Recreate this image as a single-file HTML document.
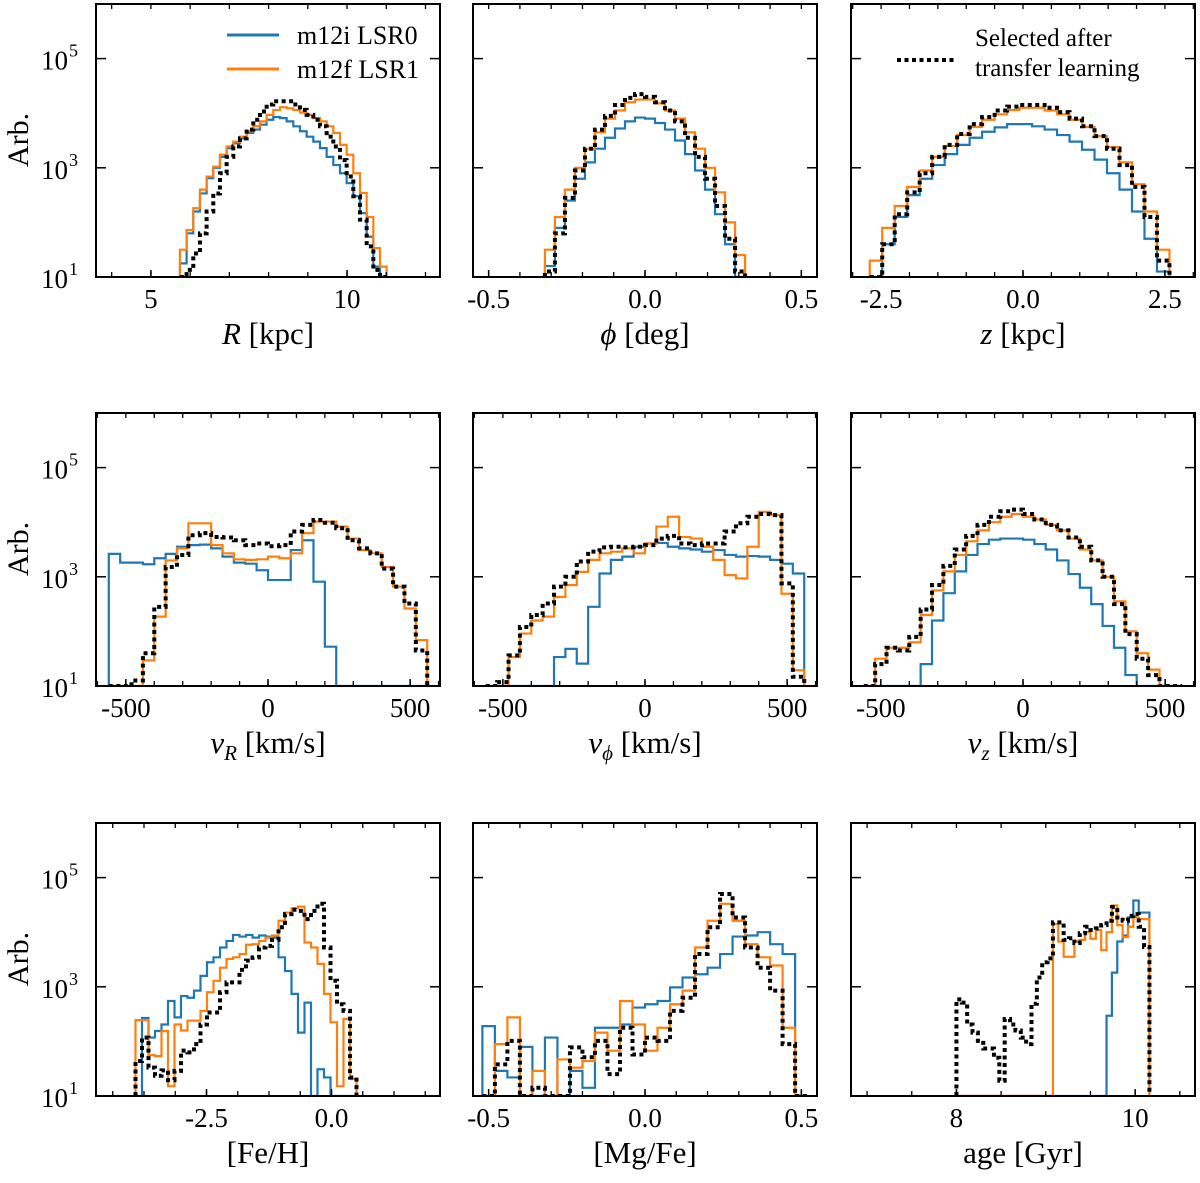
<!DOCTYPE html>
<html><head><meta charset="utf-8"><style>
html,body{margin:0;padding:0;background:#fff;}
svg{display:block;font-family:"Liberation Serif","DejaVu Serif",serif;}
</style></head><body>
<svg id="chart" width="1200" height="1183" viewBox="0 0 1200 1183" xmlns="http://www.w3.org/2000/svg"></svg>
<script>
// ---- data: log10 of counts per bin ----
const rBins = {start:5.74, width:0.17};
const rBlue   = [1.25,1.8,2.2,2.53,2.81,3.0,3.2,3.36,3.45,3.54,3.64,3.7,3.79,3.88,3.93,3.91,3.85,3.76,3.67,3.57,3.48,3.36,3.2,3.05,2.9,2.72,2.48,2.17,1.74,1.19,0];
const rOrange = [1.5,1.86,2.26,2.6,2.84,3.02,3.24,3.39,3.48,3.57,3.67,3.76,3.85,3.97,4.06,4.11,4.09,4.06,4.01,3.97,3.91,3.85,3.76,3.64,3.42,3.24,2.9,2.54,2.1,1.53,1.19];
const rSel    = [0,1.13,1.43,1.8,2.2,2.53,2.9,3.2,3.39,3.54,3.7,3.88,4.03,4.16,4.22,4.22,4.22,4.16,4.06,3.97,3.88,3.76,3.57,3.39,3.14,2.84,2.48,2.05,1.56,1.13,0];

const phiBins = {start:-0.32, width:0.032};
const phiBlue   = [1.2,1.9,2.4,2.8,3.1,3.35,3.55,3.72,3.85,3.92,3.9,3.82,3.7,3.5,3.25,2.95,2.6,2.15,1.6,1.0];
const phiOrange = [1.5,2.1,2.6,3.0,3.35,3.65,3.9,4.05,4.2,4.25,4.25,4.18,4.05,3.9,3.65,3.35,3.0,2.55,2.0,1.4];
const phiSel    = [1.1,1.8,2.45,2.95,3.35,3.7,3.95,4.15,4.28,4.35,4.3,4.2,4.05,3.85,3.55,3.2,2.8,2.3,1.7,1.1];

const zBins = {start:-2.7, width:0.22};
const zBlue   = [0.8,1.6,2.1,2.5,2.8,3.05,3.25,3.42,3.55,3.66,3.74,3.8,3.8,3.76,3.7,3.6,3.48,3.33,3.15,2.9,2.6,2.2,1.7,1.1];
const zOrange = [1.3,1.9,2.3,2.65,2.95,3.2,3.4,3.6,3.75,3.88,3.98,4.06,4.1,4.1,4.05,3.98,3.88,3.75,3.58,3.38,3.1,2.7,2.2,1.5];
const zSel    = [0.9,1.6,2.15,2.55,2.9,3.2,3.42,3.62,3.8,3.93,4.05,4.12,4.15,4.15,4.1,4.02,3.9,3.76,3.58,3.35,3.05,2.65,2.1,1.3];

const vBins = {start:-560, width:40};
const vrBlue   = [3.42,3.26,3.26,3.23,3.34,3.42,3.55,3.58,3.59,3.52,3.37,3.26,3.24,3.12,2.94,2.94,3.49,3.67,2.91,1.72,0,0,0,0,0,0,0,0];
const vrOrange = [0,0,0,1.47,2.27,3.3,3.52,3.98,3.98,3.58,3.43,3.32,3.31,3.32,3.37,3.34,3.43,3.8,4.01,4.01,3.92,3.7,3.49,3.43,3.18,2.82,2.42,1.84];
const vrSel    = [0,0,1.1,1.6,2.45,3.18,3.4,3.76,3.8,3.73,3.72,3.67,3.58,3.61,3.56,3.58,3.83,3.95,4.04,3.99,3.89,3.67,3.52,3.43,3.15,2.82,2.51,1.65];

const vpBlue   = [0,0,0,0,0,0,1.53,1.68,1.41,2.45,3.06,3.31,3.37,3.55,3.61,3.62,3.55,3.52,3.5,3.46,3.49,3.4,3.37,3.38,3.37,3.31,3.24,3.06];
const vpOrange = [0,0,1.53,1.96,2.2,2.27,2.63,2.85,3.09,3.31,3.43,3.46,3.52,3.43,3.61,3.92,4.1,3.73,3.7,3.55,3.31,3.03,2.97,3.55,4.19,4.13,2.69,1.29];
const vpSel    = [0,1.07,1.56,2.08,2.3,2.51,2.82,3.0,3.28,3.46,3.54,3.55,3.54,3.55,3.58,3.7,3.75,3.61,3.58,3.61,3.61,3.83,3.98,4.1,4.15,4.13,2.88,1.17];

const vzBlue   = [0,0,0,0,0,1.4,2.2,2.7,3.1,3.4,3.6,3.68,3.7,3.7,3.68,3.6,3.5,3.3,3.05,2.8,2.5,2.1,1.7,1.2,0.9,0,0,0];
const vzOrange = [0,1.5,1.7,1.7,1.8,2.3,2.75,3.1,3.4,3.65,3.85,4.0,4.1,4.15,4.1,4.05,3.95,3.85,3.7,3.5,3.3,3.0,2.55,2.0,1.6,1.3,0,0];
const vzSel    = [0,1.4,1.7,1.65,1.9,2.4,2.85,3.2,3.5,3.75,3.95,4.1,4.2,4.23,4.15,4.05,3.95,3.85,3.72,3.55,3.3,3.0,2.5,1.95,1.5,1.2,0,0];

const fehBins = {start:-3.92, width:0.13};
const fehBlue   = [0.9,2.43,2.07,2.19,2.31,2.74,2.44,2.83,2.8,2.93,3.2,3.45,3.54,3.72,3.84,3.95,3.92,3.95,3.9,3.94,3.92,3.9,3.54,3.29,2.87,2.16,2.71,0,1.49,1.34,0,0,0,0];
const fehOrange = [2.39,2.39,1.75,1.73,2.19,1.18,2.31,2.2,2.38,2.38,2.56,2.9,3.11,3.35,3.51,3.54,3.6,3.77,3.78,3.84,3.9,3.94,4.21,4.36,4.44,4.47,3.81,3.72,3.42,2.87,2.35,1.18,2.41,1.31];
const fehSel    = [1.64,2.07,1.52,1.37,1.47,1.29,1.46,1.83,1.8,1.95,2.31,2.53,2.53,2.9,3.08,3.08,3.31,3.48,3.54,3.72,3.75,3.86,4.09,4.33,4.41,4.39,4.24,4.39,4.52,3.72,3.11,2.68,2.56,1.34];

const mgBins = {start:-0.52, width:0.04};
const mgBlue   = [2.28,1.46,1.34,1.9,0,2.07,0,1.46,1.15,2.25,2.25,2.31,2.62,2.68,2.74,2.99,3.17,3.23,3.35,3.6,3.92,3.94,4.0,3.78,3.6,0];
const mgOrange = [0,1.95,2.44,0,1.46,0,1.67,1.52,1.64,2.16,1.83,2.74,2.31,1.83,2.25,2.68,2.93,3.72,4.21,4.52,4.21,3.78,3.54,3.39,2.25,0];
const mgSel    = [0,1.58,2.01,0,1.15,0,0,1.89,1.71,2.01,1.4,2.25,1.76,2.07,2.01,2.56,2.8,3.6,4.09,4.7,4.27,3.72,3.35,2.93,1.95,0];

const ageBins = {start:8.0, width:0.06};
const ageBlue   = [0,0,0,0,0,0,0,0,0,0,0,0,0,0,0,0,0,0,0,0,0,0,0,0,0,0,0,0,2.47,3.26,3.83,3.94,4.27,4.58,4.36,4.36];
const ageOrange = [0,0,0,0,0,0,0,0,0,0,0,0,0,0,0,0,0,0,4.15,3.83,3.55,3.55,3.83,3.86,4.0,3.88,4.04,3.67,4.0,4.49,4.13,3.91,4.1,4.27,4.24,4.24];
const ageSel    = [2.77,2.71,2.31,2.16,2.01,1.87,1.87,1.7,1.28,2.41,2.31,2.2,2.07,1.95,2.69,3.17,3.45,3.52,4.18,4.18,3.86,3.89,3.8,3.98,4.1,4.04,4.07,4.13,4.21,4.46,4.27,4.21,4.3,4.33,4.1,3.73];

const yTickExp = [1,3,5];

// ---- layout ----
const svg = document.getElementById('chart');
const NS = 'http://www.w3.org/2000/svg';
const colX = [96,473,851], rowY = [4,413,823], PW = 344, PH = 273;
const Y_MIN = 1, Y_MAX = 6;
const BLUE = '#1f77b4', ORANGE = '#ff7f0e';

function mk(tag, attrs, parent){
  const e = document.createElementNS(NS, tag);
  for (const k in attrs) e.setAttribute(k, attrs[k]);
  (parent||svg).appendChild(e);
  return e;
}

const panels = [
  {name:'r',c:0,r:0,xlim:[3.6,12.37],maj:[5,10],lab:['5','10'],minStart:4,minStep:1,bins:rBins,b:rBlue,o:rOrange,s:rSel,xl:[['R','i'],[' [kpc]','n']]},
  {name:'phi',c:1,r:0,xlim:[-0.55,0.55],maj:[-0.5,0,0.5],lab:['-0.5','0.0','0.5'],minStart:-0.5,minStep:0.1,bins:phiBins,b:phiBlue,o:phiOrange,s:phiSel,xl:[['ϕ','i'],[' [deg]','n']]},
  {name:'z',c:2,r:0,xlim:[-3.03,3.03],maj:[-2.5,0,2.5],lab:['-2.5','0.0','2.5'],minStart:-3,minStep:0.5,bins:zBins,b:zBlue,o:zOrange,s:zSel,xl:[['z','i'],[' [kpc]','n']]},
  {name:'vr',c:0,r:1,xlim:[-605,605],maj:[-500,0,500],lab:['-500','0','500'],minStart:-600,minStep:100,bins:vBins,b:vrBlue,o:vrOrange,s:vrSel,xl:[['v','i'],['R','sub'],[' [km/s]','n']]},
  {name:'vphi',c:1,r:1,xlim:[-605,605],maj:[-500,0,500],lab:['-500','0','500'],minStart:-600,minStep:100,bins:vBins,b:vpBlue,o:vpOrange,s:vpSel,xl:[['v','i'],['ϕ','sub'],[' [km/s]','n']]},
  {name:'vz',c:2,r:1,xlim:[-605,605],maj:[-500,0,500],lab:['-500','0','500'],minStart:-600,minStep:100,bins:vBins,b:vzBlue,o:vzOrange,s:vzSel,xl:[['v','i'],['z','sub'],[' [km/s]','n']]},
  {name:'feh',c:0,r:2,xlim:[-4.71,2.17],maj:[-2.5,0],lab:['-2.5','0.0'],minStart:-4.375,minStep:0.625,bins:fehBins,b:fehBlue,o:fehOrange,s:fehSel,xl:[['[Fe/H]','n']]},
  {name:'mgfe',c:1,r:2,xlim:[-0.55,0.55],maj:[-0.5,0,0.5],lab:['-0.5','0.0','0.5'],minStart:-0.5,minStep:0.1,bins:mgBins,b:mgBlue,o:mgOrange,s:mgSel,xl:[['[Mg/Fe]','n']]},
  {name:'age',c:2,r:2,xlim:[6.82,10.67],maj:[8,10],lab:['8','10'],minStart:7,minStep:0.5,bins:ageBins,b:ageBlue,o:ageOrange,s:ageSel,xl:[['age [Gyr]','n']]}
];

panels.forEach((p, idx) => {
  const x0 = colX[p.c], y0 = rowY[p.r], bottom = y0 + PH;
  const g = mk('g', {});
  
  
  const xs = v => x0 + (v - p.xlim[0]) / (p.xlim[1] - p.xlim[0]) * PW;
  const ys = L => { const c = Math.max(Y_MIN, Math.min(Y_MAX, L)); return bottom - (c - Y_MIN) / (Y_MAX - Y_MIN) * PH; };

  const cp = mk('clipPath', {id:'clip' + idx}, g);
  mk('rect', {x:x0, y:y0, width:PW, height:PH}, cp);

  function step(arr, color, dotted, nm){
    let d = 'M' + xs(p.bins.start).toFixed(2) + ' ' + bottom;
    arr.forEach((L, i) => {
      const xe = xs(p.bins.start + (i + 1) * p.bins.width);
      d += ' V' + ys(L).toFixed(2) + ' H' + xe.toFixed(2);
    });
    d += ' V' + bottom;
    const path = mk('path', {d:d, fill:'none', stroke:color, 'stroke-width':dotted?4:2.2, 'clip-path':'url(#clip' + idx + ')', 'stroke-linejoin':'miter'}, g);
    if (dotted) path.setAttribute('stroke-dasharray', '4 3.5');
    
    
  }
  step(p.b, BLUE, false, p.name + '-m12i-lsr0-hist');
  step(p.o, ORANGE, false, p.name + '-m12f-lsr1-hist');
  step(p.s, '#000', true, p.name + '-selected-hist');

  const frame = mk('rect', {x:x0, y:y0, width:PW, height:PH, fill:'none', stroke:'#000', 'stroke-width':2}, g);
  
  

  for (let v = p.minStart; v <= p.xlim[1] + 1e-9; v += p.minStep) {
    const x = xs(v);
    if (x < x0 || x > x0 + PW) continue;
    mk('line', {x1:x, x2:x, y1:bottom, y2:bottom - 5, stroke:'#000', 'stroke-width':1.3}, g);
    mk('line', {x1:x, x2:x, y1:y0, y2:y0 + 5, stroke:'#000', 'stroke-width':1.3}, g);
  }
  p.maj.forEach((v, i) => {
    const x = xs(v);
    mk('line', {x1:x, x2:x, y1:bottom, y2:bottom - 7, stroke:'#000', 'stroke-width':1.5}, g);
    const t = mk('text', {x:x, y:bottom + 31, 'font-size':27, 'text-anchor':'middle'}, g);
    t.textContent = p.lab[i];
    
    
  });
  yTickExp.forEach(e => {
    const y = ys(e);
    mk('line', {x1:x0, x2:x0 + 10, y1:y, y2:y, stroke:'#000', 'stroke-width':1.5}, g);
    mk('line', {x1:x0 + PW, x2:x0 + PW - 10, y1:y, y2:y, stroke:'#000', 'stroke-width':1.5}, g);
    if (p.c === 0) {
      const t = mk('text', {x:x0 - 28, y:y + 11, 'font-size':27, 'text-anchor':'end'}, g);
      t.textContent = '10';
      
      
      const s = mk('text', {x:x0 - 27, y:y - 2, 'font-size':18}, g);
      s.textContent = String(e);
    }
  });
  if (p.c === 0) {
    const cy = y0 + 136;
    const t = mk('text', {x:0, y:0, 'font-size':30, 'text-anchor':'middle', transform:'translate(28,' + cy + ') rotate(-90)'}, g);
    t.textContent = 'Arb.';
    
    
  }
  const xl = mk('text', {x:x0 + PW / 2, y:bottom + 67, 'font-size':31, 'text-anchor':'middle'}, g);
  
  
  p.xl.forEach(part => {
    const ts = mk('tspan', {}, xl);
    ts.textContent = part[0];
    if (part[1] === 'i') ts.setAttribute('font-style', 'italic');
    if (part[1] === 'sub') { ts.setAttribute('font-style', 'italic'); ts.setAttribute('font-size', '21'); ts.setAttribute('dy', '7'); }
    if (part[1] === 'n' && p.xl.some(q => q[1] === 'sub')) ts.setAttribute('dy', '-7');
  });
});

const lg1 = mk('g', {});


mk('line', {x1:227, x2:279, y1:35, y2:35, stroke:BLUE, 'stroke-width':3}, lg1);
const lt1 = mk('text', {x:297, y:44, 'font-size':26}, lg1); lt1.textContent = 'm12i LSR0';


mk('line', {x1:227, x2:279, y1:69, y2:69, stroke:ORANGE, 'stroke-width':3}, lg1);
const lt2 = mk('text', {x:297, y:78, 'font-size':26}, lg1); lt2.textContent = 'm12f LSR1';



const lg2 = mk('g', {});


mk('line', {x1:897, x2:956, y1:60, y2:60, stroke:'#000', 'stroke-width':4, 'stroke-dasharray':'4 3.5'}, lg2);
const lt3 = mk('text', {x:975, y:46, 'font-size':25}, lg2); lt3.textContent = 'Selected after';


const lt4 = mk('text', {x:975, y:76, 'font-size':25}, lg2); lt4.textContent = 'transfer learning';
</script>
</body></html>
